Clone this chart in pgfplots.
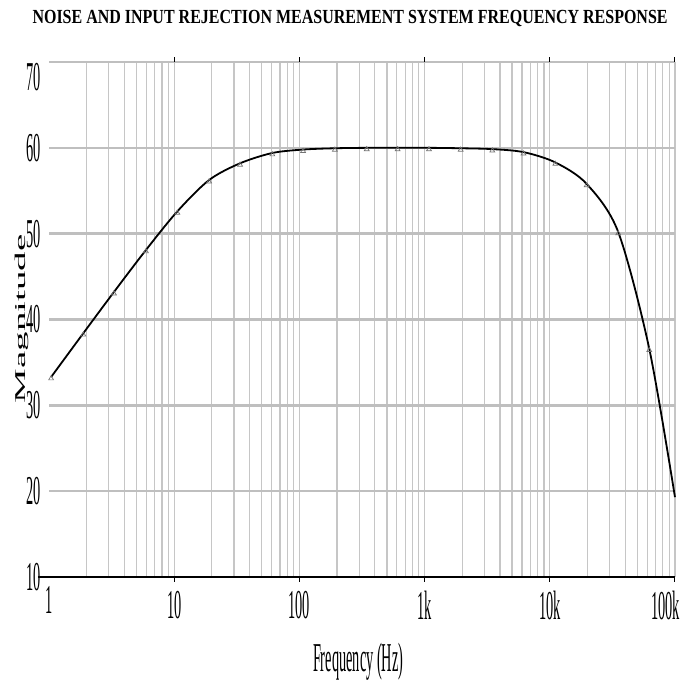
\documentclass[border=0pt]{standalone}
\usepackage{fontspec}
\usepackage{pgfplots}
\pgfplotsset{compat=1.18}
\setmainfont{Liberation Serif}
\newfontfamily\narrowfont{Liberation Serif}[FakeStretch=0.35]
\newfontfamily\titlefont{Liberation Serif}[FakeStretch=0.8]
\newfontfamily\tallfont{Liberation Serif}[FakeStretch=2.6]

\begin{document}
\begin{tikzpicture}
\begin{axis}[
  xmode=log, xmin=1, xmax=100000,
  ymin=10, ymax=70,
  scale only axis, width=626bp, height=515bp,
  clip=false,
  axis line style={draw=none},
  xtick={10,100,1000,10000,100000},
  xticklabels={10,100,1k,10k,\makebox[0pt][r]{100k\kern-5bp}},
  extra x ticks={1}, extra x tick labels={1},
  extra x tick style={grid=none, major tick length=0pt},
  minor xtick={2,3,4,5,6,7,8,9,20,30,40,50,60,70,80,90,
    200,300,400,500,600,700,800,900,
    2000,3000,4000,5000,6000,7000,8000,9000,
    20000,30000,40000,50000,60000,70000,80000,90000},
  ytick={10,20,30,40,50,60,70},
  yticklabels={10,20,30,40,50,60,\raisebox{-28bp}[0pt][0pt]{70}},
  xmajorgrids, xminorgrids, ymajorgrids,
  major x grid style={gray!45, line width=1.2bp},
  minor x grid style={gray!45, line width=1.2bp},
  major y grid style={gray!50, line width=2.6bp},
  tick align=outside, major tick length=5bp, minor tick length=0pt,
  xtick style={black, line width=1bp},
  ytick style={draw=none},
  ticklabel style={font=\narrowfont\fontsize{41bp}{41bp}\selectfont},
  xticklabel style={yshift=-6bp},
  yticklabel style={inner sep=0pt, xshift=-3bp},
  /pgf/number format/assume math mode=true,
]
% measured response (markers every quarter decade)
\addplot[black, line width=1.8bp, smooth,
  mark=triangle, mark size=2.8bp,
  mark indices={1,2,3,4,5,6,7,8,9,10,11,12,13,14,15,16,17,18,19,20},
  mark options={draw=black!55, fill=none, line width=0.7bp, yshift=-1.5bp}]
  coordinates {
   (1.04,33.3) (1.88,38.4) (3.3,43.2) (5.95,48.1) (10.6,52.6)
   (19,56.25) (33.6,58.2) (60.8,59.4) (107,59.8) (192,59.95)
   (345,60) (609,60) (1084,60) (1942,59.95) (3475,59.85)
   (6170,59.5) (11070,58.3) (19700,55.8) (35200,50.2) (62300,36.6)
   (100000,19.3)
  };
\draw[black, line width=2.2bp] (rel axis cs:-0.0176,0) -- (rel axis cs:1,0);
\node[anchor=base, font=\titlefont\bfseries\fontsize{20bp}{20bp}\selectfont]
  at (rel axis cs:0.481,1.0757)
  {NOISE AND INPUT REJECTION MEASUREMENT SYSTEM FREQUENCY RESPONSE};
\node[anchor=base, font=\narrowfont\fontsize{41bp}{41bp}\selectfont]
  at (rel axis cs:0.494,-0.1845) {Frequency (Hz)};
\node[anchor=base, rotate=90, font=\tallfont\fontsize{15bp}{15bp}\selectfont]
  at (rel axis cs:-0.0383,0.501) {Magnitude};
\path[draw=none] (rel axis cs:-0.0783,-0.2117) rectangle (rel axis cs:1.0304,1.1204);
\end{axis}
\end{tikzpicture}
\end{document}
